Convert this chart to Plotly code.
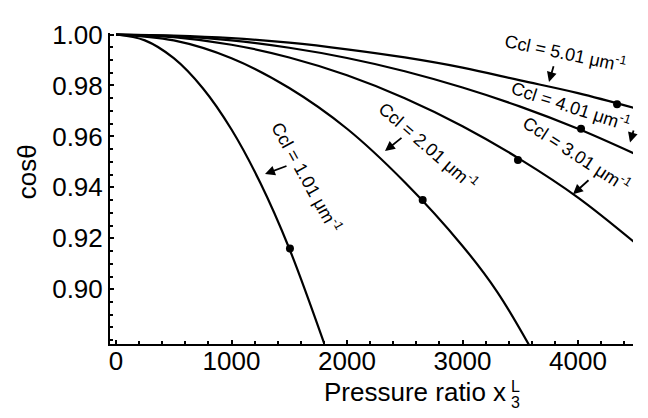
import plotly.graph_objects as go

# ---- data ----
c1_x = [0, 250, 500, 750, 1000, 1250, 1500, 1800]
c1_y = [1.0, 0.9977, 0.9907, 0.979, 0.9627, 0.9417, 0.916, 0.879]
c2_x = [0, 500, 1000, 1500, 2000, 2500, 3000, 3300, 3590]
c2_y = [1.0, 0.9977, 0.9907, 0.979, 0.963, 0.942, 0.917, 0.899, 0.877]
c3_x = [0, 500, 1000, 1500, 2000, 2500, 3000, 3500, 4000, 4500]
c3_y = [1.0, 0.999, 0.996, 0.991, 0.984, 0.975, 0.964, 0.951, 0.936, 0.918]
c4_x = [0, 500, 1000, 1500, 2000, 2500, 3000, 3500, 4000, 4500]
c4_y = [1.0, 0.9994, 0.9977, 0.9948, 0.9908, 0.9856, 0.9792, 0.9717, 0.963, 0.953]
c5_x = [0, 500, 1000, 1500, 2000, 2500, 3000, 3500, 4000, 4500]
c5_y = [1.0, 0.9996, 0.9986, 0.9968, 0.9942, 0.991, 0.987, 0.982, 0.977, 0.971]

dot_x = [1506, 2655, 3480, 4026, 4338]
dot_y = [0.916, 0.935, 0.9507, 0.963, 0.9726]

labels = ["Ccl = 1.01 μm<sup>-1</sup>", "Ccl = 2.01 μm<sup>-1</sup>",
          "Ccl = 3.01 μm<sup>-1</sup>", "Ccl = 4.01 μm<sup>-1</sup>",
          "Ccl = 5.01 μm<sup>-1</sup>"]
x_ticks = [0, 1000, 2000, 3000, 4000]
y_ticks = [0.90, 0.92, 0.94, 0.96, 0.98, 1.00]

FONT = "Liberation Sans, Arial, sans-serif"
TICK_SIZE = 26

fig = go.Figure()
for xs, ys in [(c1_x, c1_y), (c2_x, c2_y), (c3_x, c3_y), (c4_x, c4_y), (c5_x, c5_y)]:
    fig.add_trace(go.Scatter(x=xs, y=ys, mode="lines",
                             line=dict(color="black", width=2.2, shape="spline", smoothing=1.0),
                             showlegend=False, hoverinfo="skip"))
fig.add_trace(go.Scatter(x=dot_x, y=dot_y, mode="markers",
                         marker=dict(color="black", size=8), showlegend=False))

# The page body has an 8px margin, so the figure is drawn from (8, 8).
OFF = 8
W, H = 648 - OFF, 418 - OFF
# plot area in screen pixels
PX0, PX1, PY0, PY1 = 110, 633, 20, 344
L, R, T, B = PX0 - OFF, 648 - PX1, PY0 - OFF, 418 - PY1
PW, PH = PX1 - PX0, PY1 - PY0
XMIN, XMAX = -52, 4476
YMIN, YMAX = 0.8785, 1.0006


def px2x(px):
    return XMIN + (px - PX0) / PW * (XMAX - XMIN)


def py2y(py):
    return YMAX - (py - PY0) / PH * (YMAX - YMIN)


def ppx(px):
    return (px - PX0) / PW


def ppy(py):
    return (PY1 - py) / PH


# rotated curve labels: (center px, center py, angle)
label_pos = [(306, 170, 61), (428, 137, 41), (576, 146, 33), (570, 96, 18), (565, 40, 12)]
for txt, (cx, cy, ang) in zip(labels, label_pos):
    fig.add_annotation(x=px2x(cx), y=py2y(cy), text=txt, showarrow=False,
                       textangle=ang, font=dict(size=18, color="black", family=FONT))

# arrows: (tail px, tail py, tip px, tip py)
arrows = [(288, 158, 265, 167), (403, 128, 385, 143), (590, 172, 573, 188),
          (634, 120, 630, 134), (554, 53, 549, 71)]
for tx, ty, hx, hy in arrows:
    fig.add_annotation(x=px2x(hx), y=py2y(hy), ax=px2x(tx), ay=py2y(ty),
                       axref="x", ayref="y", text="", showarrow=True,
                       arrowhead=2, arrowsize=1.1, arrowwidth=1.8, arrowcolor="black")

# x-axis title with stacked super/subscript
XEND = 508
fig.add_annotation(xref="paper", yref="paper", x=ppx(XEND), y=ppy(394),
                   text="Pressure ratio x", showarrow=False, xanchor="right", yanchor="middle",
                   font=dict(size=26, color="black", family=FONT))
fig.add_annotation(xref="paper", yref="paper", x=ppx(XEND + 1), y=ppy(388),
                   text="L", showarrow=False, xanchor="left", yanchor="middle",
                   font=dict(size=16, color="black", family=FONT))
fig.add_annotation(xref="paper", yref="paper", x=ppx(XEND + 1), y=ppy(405),
                   text="3", showarrow=False, xanchor="left", yanchor="middle",
                   font=dict(size=16, color="black", family=FONT))
# y-axis title
fig.add_annotation(xref="paper", yref="paper", x=ppx(27), y=ppy(165),
                   text="cosθ", showarrow=False, textangle=-90, xanchor="center", yanchor="middle",
                   font=dict(size=TICK_SIZE, color="black", family=FONT))

fig.update_layout(
    width=W, height=H, margin=dict(l=L, r=R, t=T, b=B),
    paper_bgcolor="white", plot_bgcolor="white",
    font=dict(family=FONT, size=TICK_SIZE, color="black"),
    xaxis=dict(range=[XMIN, XMAX], tickvals=x_ticks, ticktext=[str(v) for v in x_ticks],
               showgrid=False, zeroline=False, showline=True, linecolor="black", linewidth=2,
               ticks="inside", ticklen=4, tickwidth=2, tickcolor="black",
               minor=dict(dtick=200, tick0=0, ticks="inside", ticklen=3, tickwidth=2, tickcolor="black"),
               tickfont=dict(size=TICK_SIZE), ticklabelstandoff=-7, ticklabeloverflow="allow"),
    yaxis=dict(range=[YMIN, YMAX], tickvals=y_ticks, ticktext=["%.2f" % v for v in y_ticks],
               showgrid=False, zeroline=False, showline=True, linecolor="black", linewidth=2,
               ticks="inside", ticklen=4, tickwidth=2, tickcolor="black",
               minor=dict(dtick=0.005, tick0=0.9, ticks="inside", ticklen=3, tickwidth=2, tickcolor="black"),
               tickfont=dict(size=TICK_SIZE), ticklabeloverflow="allow"),
)

fig.write_html("out.html")
